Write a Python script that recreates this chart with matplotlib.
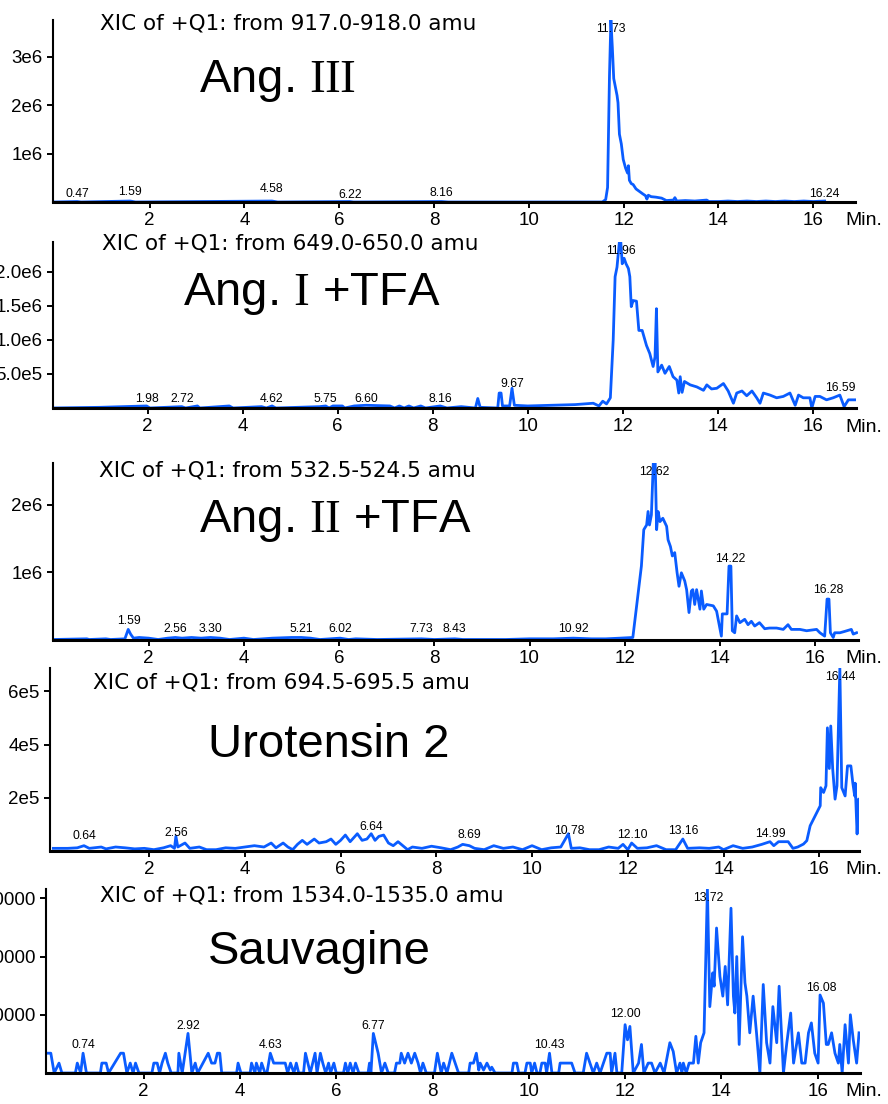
import numpy as np
import matplotlib
matplotlib.use('Agg')
import matplotlib.pyplot as plt
from matplotlib import font_manager

# ---------------- data (time in min, intensity in the units of each y axis) ----------------
ang3_trace = [(0.0, 0.0), (0.47, 0.01), (0.55, 0.0), (1.59, 0.02), (1.7, 0.0), (4.58, 0.02), (4.7, 0.0),
              (6.22, 0.01), (6.3, 0.0), (8.16, 0.01), (8.3, 0.0), (11.55, 0.0), (11.62, 0.05), (11.66, 0.30),
              (11.70, 2.6), (11.73, 3.76), (11.76, 3.2), (11.79, 2.55), (11.86, 2.2), (11.88, 2.05),
              (11.91, 1.4), (11.95, 1.2), (11.99, 0.88), (12.04, 0.70), (12.08, 0.60), (12.10, 0.75),
              (12.12, 0.45), (12.16, 0.38), (12.20, 0.36), (12.26, 0.27), (12.33, 0.22), (12.40, 0.17),
              (12.46, 0.13), (12.49, 0.06), (12.52, 0.14), (12.58, 0.11), (12.68, 0.10), (12.80, 0.08),
              (12.90, 0.03), (13.05, 0.04), (13.08, 0.09), (13.12, 0.02), (13.3, 0.03), (13.5, 0.02),
              (13.75, 0.04), (13.8, 0.01), (14.0, 0.01), (14.2, 0.02), (14.4, 0.01), (14.6, 0.02),
              (14.8, 0.01), (15.0, 0.02), (15.2, 0.01), (15.4, 0.02), (15.6, 0.01), (15.8, 0.02),
              (16.0, 0.01), (16.24, 0.02)]
ang3_peaks = [0.47, 1.59, 4.58, 6.22, 8.16, 11.73, 16.24]
ang3_heights = [0.02, 0.06, 0.12, 0.0, 0.04, 3.76, 0.02]

ang1_trace = [(0.0, 0.0), (1.0, 0.01), (1.98, 0.03), (2.05, 0.0), (2.72, 0.02), (2.8, 0.0), (3.05, 0.03),
              (3.1, 0.0), (3.72, 0.03), (3.8, 0.0), (4.4, 0.02), (4.5, 0.0), (4.62, 0.03), (4.7, 0.0),
              (5.62, 0.02), (5.75, 0.03), (5.82, 0.0), (5.9, 0.03), (6.1, 0.03), (6.15, 0.0), (6.35, 0.03),
              (6.6, 0.04), (7.1, 0.03), (7.2, 0.0), (7.3, 0.03), (7.4, 0.0), (7.5, 0.03), (7.6, 0.0),
              (7.75, 0.03), (7.85, 0.0), (8.16, 0.03), (8.3, 0.0), (8.6, 0.02), (8.9, 0.0), (8.95, 0.14),
              (9.0, 0.01), (9.37, 0.0), (9.40, 0.22), (9.44, 0.22), (9.47, 0.03), (9.62, 0.03), (9.67, 0.29),
              (9.72, 0.04), (10.0, 0.03), (10.5, 0.04), (11.0, 0.05), (11.38, 0.07), (11.50, 0.03),
              (11.58, 0.10), (11.66, 0.06), (11.74, 0.15), (11.80, 1.0), (11.84, 1.93), (11.88, 2.07),
              (11.93, 2.44), (11.96, 2.44), (11.99, 2.12), (12.03, 2.20), (12.07, 2.12), (12.12, 2.05),
              (12.15, 1.93), (12.18, 1.49), (12.22, 1.58), (12.29, 1.57), (12.34, 1.14), (12.41, 1.14),
              (12.50, 0.92), (12.57, 0.80), (12.64, 0.61), (12.68, 0.75), (12.71, 1.46), (12.74, 0.53),
              (12.82, 0.63), (12.89, 0.51), (12.98, 0.61), (13.06, 0.46), (13.14, 0.41), (13.18, 0.22),
              (13.21, 0.46), (13.25, 0.23), (13.30, 0.39), (13.42, 0.34), (13.56, 0.31), (13.70, 0.26),
              (13.77, 0.34), (13.87, 0.28), (13.98, 0.29), (14.12, 0.36), (14.22, 0.25), (14.33, 0.07),
              (14.40, 0.22), (14.51, 0.25), (14.61, 0.18), (14.72, 0.25), (14.82, 0.15), (14.89, 0.07),
              (14.96, 0.22), (15.10, 0.19), (15.24, 0.15), (15.38, 0.17), (15.52, 0.22), (15.63, 0.04),
              (15.70, 0.19), (15.80, 0.15), (15.94, 0.15), (15.98, 0.0), (16.05, 0.17), (16.15, 0.17),
              (16.29, 0.12), (16.43, 0.15), (16.57, 0.19), (16.66, 0.02), (16.75, 0.12), (16.89, 0.12)]
ang1_peaks = [1.98, 2.72, 4.62, 5.75, 6.60, 8.16, 9.67, 11.96, 16.59]
ang1_heights = [0.04, 0.04, 0.04, 0.04, 0.04, 0.04, 0.26, 2.44, 0.19]

ang2_trace = [(0.0, 0.0), (0.7, 0.01), (0.75, 0.0), (1.1, 0.01), (1.2, 0.0), (1.5, 0.01), (1.57, 0.15),
              (1.62, 0.08), (1.68, 0.02), (1.8, 0.03), (2.0, 0.02), (2.2, 0.0), (2.4, 0.02), (2.56, 0.03),
              (2.7, 0.02), (2.9, 0.03), (3.1, 0.02), (3.30, 0.03), (3.5, 0.02), (3.7, 0.0), (4.0, 0.02),
              (4.2, 0.0), (4.6, 0.02), (5.0, 0.03), (5.21, 0.03), (5.4, 0.02), (5.6, 0.0), (6.02, 0.02),
              (6.2, 0.0), (6.35, 0.01), (6.8, 0.0), (7.73, 0.01), (8.0, 0.0), (8.43, 0.01), (8.6, 0.0),
              (9.5, 0.0), (10.0, 0.01), (10.5, 0.01), (10.92, 0.02), (11.3, 0.01), (11.6, 0.01),
              (11.9, 0.02), (12.17, 0.03), (12.25, 0.50), (12.35, 1.09), (12.40, 1.63), (12.46, 1.70),
              (12.49, 1.90), (12.52, 1.70), (12.56, 1.85), (12.60, 2.62), (12.64, 2.62), (12.67, 1.63),
              (12.70, 1.90), (12.74, 1.75), (12.80, 1.80), (12.88, 1.68), (12.91, 1.48), (12.96, 1.38),
              (13.00, 1.24), (13.05, 1.29), (13.10, 0.99), (13.14, 0.79), (13.19, 0.99), (13.26, 0.87),
              (13.30, 0.74), (13.35, 0.40), (13.40, 0.72), (13.43, 0.74), (13.47, 0.52), (13.51, 0.74),
              (13.58, 0.45), (13.61, 0.72), (13.66, 0.45), (13.72, 0.52), (13.86, 0.50), (13.93, 0.42),
              (14.03, 0.05), (14.05, 0.38), (14.15, 0.38), (14.19, 1.09), (14.23, 1.09), (14.26, 0.13),
              (14.31, 0.10), (14.35, 0.35), (14.42, 0.25), (14.52, 0.30), (14.59, 0.22), (14.66, 0.27),
              (14.73, 0.20), (14.83, 0.25), (14.94, 0.16), (15.04, 0.17), (15.19, 0.17), (15.33, 0.15),
              (15.43, 0.22), (15.50, 0.15), (15.68, 0.15), (15.82, 0.13), (16.03, 0.15), (16.10, 0.10),
              (16.20, 0.05), (16.25, 0.60), (16.29, 0.60), (16.32, 0.10), (16.38, 0.03), (16.41, 0.10),
              (16.52, 0.10), (16.62, 0.12), (16.76, 0.15), (16.80, 0.08), (16.87, 0.10)]
ang2_peaks = [1.59, 2.56, 3.30, 5.21, 6.02, 7.73, 8.43, 10.92, 12.62, 14.22, 16.28]
ang2_heights = [0.18, 0.05, 0.05, 0.05, 0.05, 0.05, 0.05, 0.05, 2.62, 1.09, 0.63]

uro_trace = [(0.0, 0.1), (0.3, 0.1), (0.5, 0.12), (0.64, 0.2), (0.75, 0.1), (1.0, 0.15), (1.1, 0.08),
             (1.3, 0.15), (1.5, 0.12), (1.7, 0.08), (1.9, 0.1), (2.1, 0.05), (2.3, 0.12), (2.45, 0.2),
             (2.53, 0.1), (2.56, 0.55), (2.6, 0.15), (2.75, 0.3), (2.85, 0.1), (3.05, 0.15), (3.2, 0.05),
             (3.4, 0.05), (3.6, 0.12), (3.8, 0.1), (4.0, 0.15), (4.2, 0.2), (4.4, 0.15), (4.55, 0.3),
             (4.65, 0.12), (4.8, 0.3), (4.9, 0.15), (5.0, 0.05), (5.1, 0.25), (5.2, 0.4), (5.3, 0.25),
             (5.45, 0.45), (5.55, 0.3), (5.7, 0.35), (5.8, 0.45), (5.9, 0.25), (6.0, 0.4), (6.1, 0.6),
             (6.2, 0.35), (6.35, 0.65), (6.45, 0.4), (6.55, 0.45), (6.64, 0.65), (6.72, 0.4), (6.8, 0.55),
             (6.9, 0.6), (7.0, 0.3), (7.1, 0.2), (7.2, 0.35), (7.3, 0.2), (7.4, 0.05), (7.5, 0.15),
             (7.7, 0.1), (7.9, 0.18), (8.1, 0.12), (8.3, 0.05), (8.45, 0.15), (8.55, 0.25), (8.69, 0.2),
             (8.8, 0.1), (9.0, 0.05), (9.2, 0.2), (9.4, 0.1), (9.6, 0.15), (9.8, 0.05), (10.0, 0.2),
             (10.2, 0.05), (10.4, 0.12), (10.6, 0.15), (10.76, 0.65), (10.82, 0.1), (11.0, 0.12),
             (11.2, 0.05), (11.4, 0.05), (11.6, 0.15), (11.8, 0.1), (11.9, 0.25), (12.0, 0.05),
             (12.08, 0.3), (12.2, 0.1), (12.4, 0.12), (12.6, 0.2), (12.8, 0.05), (13.0, 0.05),
             (13.15, 0.45), (13.25, 0.1), (13.5, 0.12), (13.7, 0.1), (13.9, 0.15), (14.0, 0.05),
             (14.2, 0.2), (14.4, 0.1), (14.6, 0.15), (14.8, 0.25), (14.97, 0.35), (15.05, 0.2),
             (15.15, 0.35), (15.35, 0.35), (15.45, 0.1), (15.55, 0.15), (15.67, 0.26), (15.74, 0.39),
             (15.81, 0.95), (15.95, 1.45), (16.02, 1.7), (16.03, 2.38), (16.09, 2.2), (16.14, 2.45),
             (16.17, 4.63), (16.21, 3.1), (16.24, 4.7), (16.28, 3.1), (16.33, 1.95), (16.37, 2.45),
             (16.43, 6.88), (16.47, 2.38), (16.54, 2.07), (16.59, 3.2), (16.66, 3.2), (16.70, 2.57),
             (16.74, 2.07), (16.75, 2.55), (16.79, 0.64), (16.82, 1.95), (16.85, 1.95)]
uro_peaks = [0.64, 2.56, 6.64, 8.69, 10.78, 12.10, 13.16, 14.99, 16.44]
uro_heights = [0.33, 0.41, 0.66, 0.35, 0.51, 0.35, 0.51, 0.39, 6.88]

sauv_trace = [(0.0, 0.34), (0.07, 0.34), (0.14, 0), (0.24, 0.17), (0.30, 0), (0.58, 0), (0.62, 0.17),
              (0.69, 0), (0.74, 0.34), (0.81, 0), (1.10, 0), (1.13, 0.17), (1.22, 0.17), (1.27, 0),
              (1.52, 0.34), (1.58, 0.34), (1.65, 0), (1.72, 0.17), (1.78, 0), (1.83, 0.17), (1.90, 0),
              (2.17, 0), (2.21, 0.17), (2.28, 0.17), (2.33, 0), (2.38, 0.17), (2.45, 0.34), (2.50, 0.17),
              (2.57, 0), (2.71, 0), (2.73, 0.34), (2.80, 0), (2.86, 0.34), (2.92, 0.68), (3.00, 0),
              (3.07, 0.17), (3.12, 0), (3.34, 0.34), (3.41, 0.17), (3.48, 0.17), (3.53, 0.34), (3.58, 0.34),
              (3.62, 0), (3.93, 0), (3.96, 0.17), (4.02, 0), (4.21, 0), (4.24, 0.17), (4.31, 0),
              (4.34, 0.17), (4.41, 0), (4.45, 0.17), (4.52, 0), (4.56, 0), (4.63, 0.34), (4.70, 0.17),
              (4.80, 0.17), (4.94, 0.17), (4.99, 0), (5.05, 0.17), (5.12, 0), (5.17, 0.17), (5.22, 0),
              (5.32, 0), (5.36, 0.34), (5.46, 0), (5.56, 0.34), (5.60, 0), (5.67, 0.34), (5.72, 0.17),
              (5.78, 0), (5.84, 0.17), (5.88, 0), (5.95, 0.17), (6.00, 0), (6.15, 0), (6.19, 0.17),
              (6.24, 0), (6.29, 0.17), (6.35, 0), (6.40, 0.17), (6.47, 0), (6.66, 0), (6.69, 0.17),
              (6.72, 0), (6.77, 0.68), (6.87, 0.34), (6.94, 0), (7.01, 0.17), (7.08, 0), (7.21, 0),
              (7.25, 0.17), (7.32, 0.17), (7.35, 0.34), (7.42, 0.17), (7.49, 0.34), (7.56, 0.17),
              (7.63, 0.34), (7.70, 0.17), (7.75, 0), (7.80, 0.17), (7.87, 0), (8.04, 0), (8.10, 0.34),
              (8.18, 0), (8.23, 0.17), (8.30, 0), (8.40, 0.34), (8.47, 0.17), (8.54, 0), (8.75, 0),
              (8.78, 0.17), (8.85, 0.17), (8.91, 0.34), (8.96, 0.05), (8.99, 0.17), (9.06, 0.05),
              (9.13, 0.17), (9.20, 0.05), (9.23, 0.1), (9.30, 0), (9.65, 0), (9.68, 0.17), (9.75, 0.17),
              (9.79, 0), (9.92, 0), (9.96, 0.17), (10.03, 0.17), (10.06, 0), (10.12, 0.17), (10.17, 0),
              (10.23, 0), (10.27, 0.17), (10.34, 0.17), (10.37, 0), (10.43, 0.34), (10.48, 0), (10.62, 0),
              (10.65, 0.17), (10.75, 0.17), (10.82, 0.17), (10.89, 0.17), (10.96, 0), (11.13, 0),
              (11.20, 0.34), (11.27, 0.17), (11.34, 0), (11.41, 0.17), (11.48, 0), (11.55, 0.17),
              (11.62, 0.34), (11.69, 0.34), (11.72, 0), (11.79, 0.34), (11.83, 0), (11.93, 0),
              (12.00, 0.83), (12.05, 0.57), (12.10, 0.80), (12.14, 0.34), (12.17, 0), (12.28, 0.17),
              (12.34, 0.49), (12.39, 0), (12.48, 0.17), (12.55, 0.17), (12.62, 0), (12.73, 0.17),
              (12.81, 0), (12.93, 0.52), (13.00, 0.37), (13.07, 0), (13.14, 0.17), (13.18, 0),
              (13.21, 0.17), (13.27, 0), (13.33, 0.17), (13.42, 0.17), (13.47, 0.63), (13.52, 0.17),
              (13.57, 0.52), (13.64, 0.69), (13.71, 3.16), (13.76, 1.14), (13.82, 1.72), (13.85, 1.49),
              (13.90, 2.49), (13.97, 1.66), (14.03, 1.32), (14.08, 1.83), (14.13, 1.17), (14.20, 2.83),
              (14.25, 1.32), (14.28, 1.03), (14.32, 2.0), (14.37, 0.49), (14.44, 2.34), (14.49, 1.55),
              (14.53, 1.32), (14.59, 0.69), (14.66, 1.32), (14.73, 0.69), (14.80, 0), (14.87, 1.52),
              (14.94, 0.52), (15.01, 0.17), (15.07, 1.14), (15.15, 0.52), (15.20, 1.49), (15.29, 0),
              (15.36, 0.52), (15.44, 1.03), (15.50, 0.17), (15.60, 0.69), (15.67, 0.17), (15.74, 0.17),
              (15.81, 0.69), (15.87, 0.86), (15.94, 0.34), (16.01, 0.17), (16.05, 1.34), (16.12, 1.20),
              (16.18, 0.49), (16.22, 0.49), (16.29, 0.69), (16.36, 0.34), (16.43, 0.17), (16.46, 0.49),
              (16.51, 0), (16.57, 0.83), (16.64, 0.17), (16.68, 1.0), (16.74, 0.57), (16.81, 0.17),
              (16.86, 0.69)]
sauv_peaks = [0.74, 2.92, 4.63, 6.77, 10.43, 12.00, 13.72, 16.08]
sauv_heights = [0.37, 0.70, 0.37, 0.70, 0.37, 0.89, 3.16, 1.34]

xic_titles = ['XIC of +Q1: from 917.0-918.0 amu', 'XIC of +Q1: from 649.0-650.0 amu',
              'XIC of +Q1: from 532.5-524.5 amu', 'XIC of +Q1: from 694.5-695.5 amu',
              'XIC of +Q1: from 1534.0-1535.0 amu']
compound_names = [r'Ang. $\mathrm{III}$', r'Ang. $\mathrm{I}$ +TFA', r'Ang. $\mathrm{II}$ +TFA',
                  'Urotensin 2', 'Sauvagine']
ytick_values = [[1, 2, 3], [0.5, 1.0, 1.5, 2.0], [1, 2], [2, 4, 6], [1, 2, 3]]
ytick_labels = [['1e6', '2e6', '3e6'], ['5.0e5', '1.0e6', '1.5e6', '2.0e6'], ['1e6', '2e6'],
                ['2e5', '4e5', '6e5'], ['10000', '20000', '30000']]
xtick_values = [2, 4, 6, 8, 10, 12, 14, 16]

# ---------------- layout (pixels of the 888x1104 picture) ----------------
W, H = 888, 1104
# left, top, right, bottom of each plot frame
boxes = [(53, 20, 855, 202), (53, 242, 856, 408), (53, 463, 858, 639.5),
         (50, 668, 859, 851), (46, 889, 860, 1073)]
xlims = [(-0.04, 16.88), (0.01, 16.91), (-0.01, 16.90), (-0.07, 16.83), (-0.03, 16.88)]
ylims = [(0, 3.76), (0, 2.44), (0, 2.62), (0, 6.88), (0, 3.16)]
xic_pos = [(100, 30), (101.7, 250), (99.3, 476.7), (93.3, 688.3), (100, 901.7)]
name_pos = [(199, 91.7), (182.7, 305), (199, 531.7), (208, 756.7), (208, 964)]

plt.rcParams['font.family'] = 'Liberation Sans'
plt.rcParams['mathtext.fontset'] = 'custom'
plt.rcParams['mathtext.rm'] = 'Liberation Serif'

available = {f.name for f in font_manager.fontManager.ttflist}
NARROW = 'Liberation Sans Narrow' if 'Liberation Sans Narrow' in available else 'Liberation Sans'
BLUE = '#0a5cff'

traces = [ang3_trace, ang1_trace, ang2_trace, uro_trace, sauv_trace]
peaks = [ang3_peaks, ang1_peaks, ang2_peaks, uro_peaks, sauv_peaks]
heights = [ang3_heights, ang1_heights, ang2_heights, uro_heights, sauv_heights]


def fx(x):
    return x / W


def fy(y):
    return 1 - y / H


fig = plt.figure(figsize=(W / 100, H / 100), dpi=100)

for i in range(5):
    l, t, r, b = boxes[i]
    ax = fig.add_axes([fx(l), fy(b), (r - l) / W, (b - t) / H])
    tt, yy = np.array(traces[i], dtype=float).T
    ax.plot(tt, yy, color=BLUE, lw=2.0, zorder=2)
    ax.set_xlim(*xlims[i])
    ax.set_ylim(*ylims[i])

    for side in ['top', 'right']:
        ax.spines[side].set_visible(False)
    ax.spines['left'].set_linewidth(1.5)
    ax.spines['bottom'].set_linewidth(2.2)

    ax.set_xticks(xtick_values)
    ax.set_xticklabels([str(v) for v in xtick_values], fontfamily=NARROW, fontsize=13.5)
    ax.set_yticks(ytick_values[i])
    ax.set_yticklabels(ytick_labels[i], fontfamily=NARROW, fontsize=13.5)
    ax.tick_params(direction='out', length=4, width=1.4, pad=3.5)

    # retention time labels on the peaks
    ytop = ylims[i][1]
    for pt, ph in zip(peaks[i], heights[i]):
        if ph >= ytop * 0.97:
            ax.annotate(f'{pt:.2f}', (pt, ytop), xytext=(0, -2), textcoords='offset points',
                        ha='center', va='top', fontsize=8.8, fontfamily=NARROW, annotation_clip=False)
        else:
            ax.annotate(f'{pt:.2f}', (pt, ph), xytext=(0, 0.5), textcoords='offset points',
                        ha='center', va='bottom', fontsize=8.8, fontfamily=NARROW, annotation_clip=False)

    fig.text(fx(xic_pos[i][0]), fy(xic_pos[i][1]), xic_titles[i], fontsize=15.5,
             fontfamily='DejaVu Sans', va='baseline', ha='left')
    fig.text(fx(name_pos[i][0]), fy(name_pos[i][1]), compound_names[i], fontsize=34,
             va='baseline', ha='left')
    fig.text(fx(845), fy(b + 19), 'Min.', fontsize=14, va='center', ha='left')

fig.savefig('out.png', dpi=100)
